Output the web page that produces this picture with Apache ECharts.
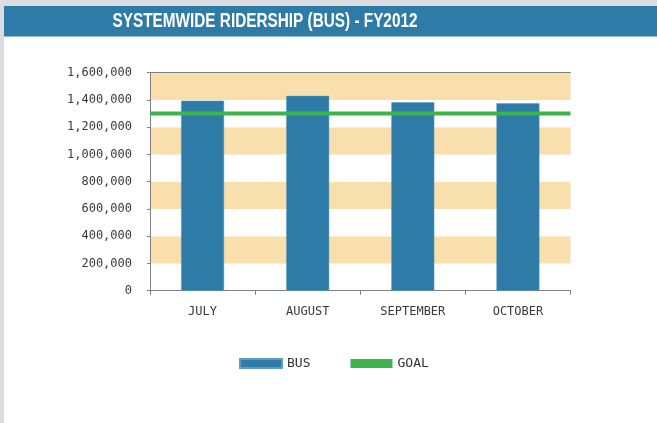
<!DOCTYPE html>
<html>
<head>
<meta charset="utf-8">
<script src="https://cdn.jsdelivr.net/npm/echarts@6/dist/echarts.min.js"></script>
<style>
html,body{margin:0;padding:0;background:#fff;}
#chart{width:657px;height:423px;}
</style>
</head>
<body>
<div id="chart"></div>
<script>
const titleText = 'SYSTEMWIDE RIDERSHIP (BUS) - FY2012';
const categories = ['JULY', 'AUGUST', 'SEPTEMBER', 'OCTOBER'];
const busValues = [1395000, 1430000, 1383000, 1375000];
const goalValues = [1300000, 1300000, 1300000, 1300000];
const seriesNames = ['BUS', 'GOAL'];

const chart = echarts.init(document.getElementById('chart'), null, {renderer: 'canvas'});
const mono = 'DejaVu Sans Mono';
chart.setOption({
  backgroundColor: '#ffffff',
  animation: false,
  graphic: [
    {type: 'rect', left: 0, top: 0, shape: {width: 657, height: 6}, style: {fill: '#dcdde0'}, z: 100},
    {type: 'rect', left: 0, top: 0, shape: {width: 4, height: 423}, style: {fill: '#dcdde0'}, z: 100},
    {type: 'rect', left: 4, top: 6, shape: {width: 653, height: 30}, style: {fill: '#2e7ba8'}, z: 100},
    {type: 'rect', left: 4, top: 36, shape: {width: 653, height: 1}, style: {fill: '#8fbcd8'}, z: 100},
    {
      type: 'text', x: 265, y: 21, scaleX: 0.73, z: 200,
      style: {
        text: titleText, fill: '#ffffff',
        font: 'bold 21px "Liberation Sans", Arial, sans-serif',
        textAlign: 'center', textVerticalAlign: 'middle'
      }
    }
  ],
  legend: {
    left: 234,
    top: 352,
    itemWidth: 42,
    itemHeight: 9,
    itemGap: 40,
    icon: 'rect',
    data: seriesNames,
    textStyle: {fontFamily: mono, fontSize: 13, color: '#333333'}
  },
  grid: {left: 150, top: 72.7, right: 86.5, bottom: 132.3, containLabel: false},
  xAxis: [
    {
      type: 'category',
      data: categories,
      boundaryGap: true,
      axisLine: {lineStyle: {color: '#808080', width: 1}},
      axisTick: {show: true, length: 4, lineStyle: {color: '#808080'}},
      axisLabel: {fontFamily: mono, fontSize: 12, color: '#3a3a3a', margin: 15}
    },
    {
      type: 'category',
      data: categories,
      position: 'top',
      boundaryGap: false,
      axisLine: {show: true, lineStyle: {color: '#808080', width: 1}},
      axisTick: {show: false},
      axisLabel: {show: false}
    }
  ],
  yAxis: {
    type: 'value',
    min: 0,
    max: 1600000,
    interval: 200000,
    axisLine: {show: true, lineStyle: {color: '#808080', width: 1}},
    axisTick: {show: true, length: 3, lineStyle: {color: '#808080'}},
    splitLine: {show: false},
    splitArea: {show: true, areaStyle: {color: ['#ffffff', '#f9dfab']}},
    axisLabel: {
      fontFamily: mono, fontSize: 12, color: '#3a3a3a', margin: 18,
      formatter: v => v.toLocaleString('en-US')
    }
  },
  series: [
    {
      name: seriesNames[0],
      type: 'bar',
      data: busValues,
      barWidth: 43,
      itemStyle: {color: '#2e7ba8', borderColor: '#5e9cc2', borderWidth: 0.5}
    },
    {
      name: seriesNames[1],
      type: 'line',
      xAxisIndex: 1,
      data: goalValues,
      symbol: 'none',
      itemStyle: {color: '#3cb44b'},
      lineStyle: {color: '#3cb44b', width: 4},
      z: 5
    }
  ]
});
</script>
</body>
</html>
